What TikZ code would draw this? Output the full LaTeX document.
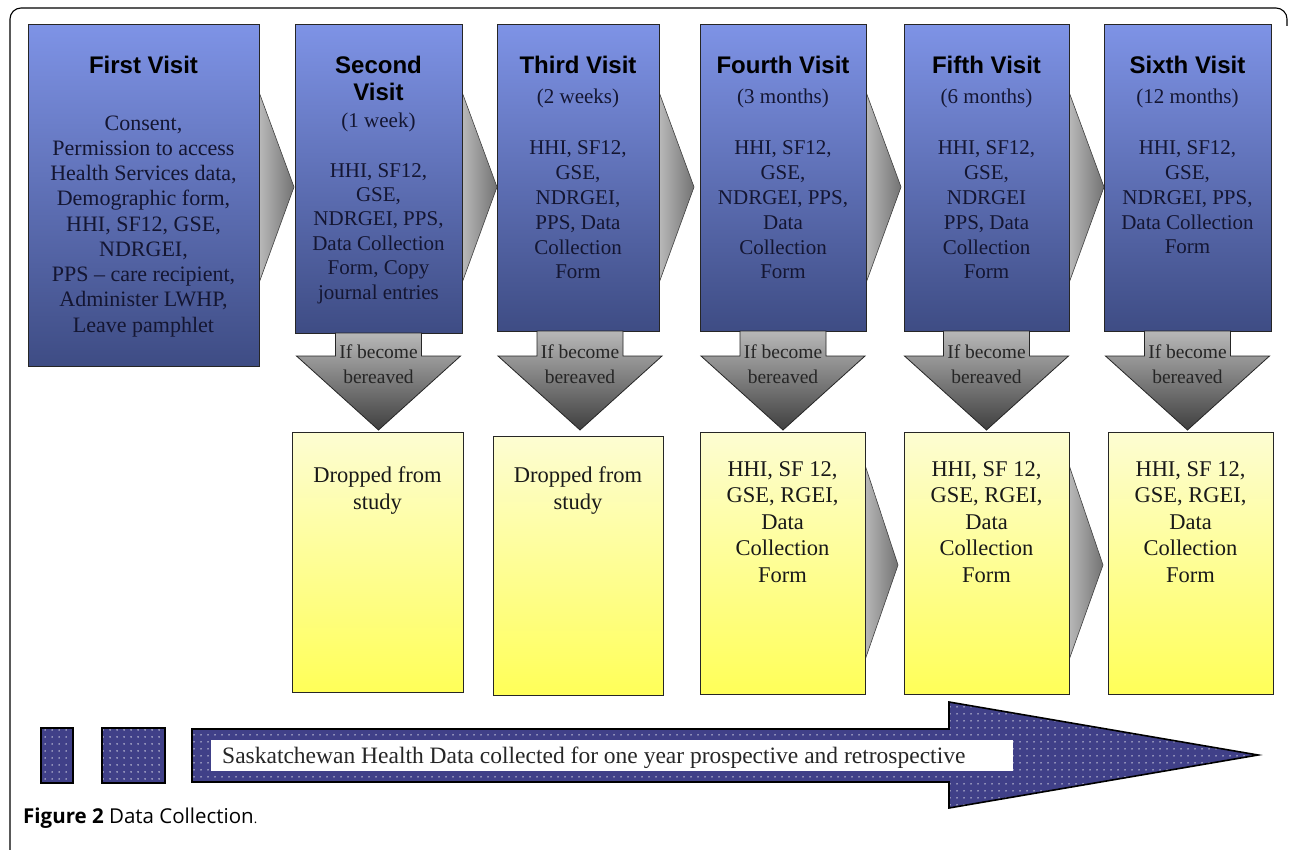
\documentclass[tikz,border=0pt]{standalone}
\usepackage{fontspec}
\setmainfont{Liberation Serif}
\newfontfamily\arialf{Liberation Sans}
\newfontfamily\capf{Open Sans}
\usetikzlibrary{patterns.meta}
\definecolor{vtop}{RGB}{126,147,230}
\definecolor{vbot}{RGB}{62,76,132}
\definecolor{ytop}{RGB}{253,253,210}
\definecolor{ybot}{RGB}{255,255,88}
\definecolor{navy}{RGB}{64,64,136}
\definecolor{txtd}{RGB}{20,22,50}
\tikzset{
  visit/.style={draw=black!85, line width=1pt, top color=vtop, bottom color=vbot},
  yel/.style={draw=black!85, line width=1pt, top color=ytop, bottom color=ybot},
  chev/.style={draw=black!75, line width=0.6pt, left color=black!18, right color=black!55},
  downarr/.style={draw=black!85, line width=0.8pt, top color=black!28, bottom color=black!75},
  dotted box/.style={draw=black, line width=1.6pt, preaction={fill=navy}, pattern={Dots[distance=6.5pt,radius=0.8pt]}, pattern color=white!85!navy},
  ttl/.style={font=\arialf\bfseries\fontsize{24}{27}\selectfont, text=black, align=center, anchor=base, inner sep=0pt},
  vtxt/.style={font=\fontsize{21}{24.8}\selectfont, text=txtd, align=center, anchor=base, inner sep=0pt},
  ytxt/.style={font=\fontsize{22.5}{26.5}\selectfont, text=black!90, align=center, anchor=base, inner sep=0pt},
  btxt/.style={font=\fontsize{19.5}{25}\selectfont, text=black!85, align=center, anchor=base, inner sep=0pt},
}
\begin{document}
\begin{tikzpicture}[x=1pt,y=-1pt]
\useasboundingbox (0,0) rectangle (1290,850);
\fill[white] (0,0) rectangle (1290,850);
% frame
\draw[line width=1.1pt, rounded corners=11pt] (10,851) -- (10,8) -- (1287,8) -- (1287,26);

% top chevrons (behind boxes)
\foreach \xl in {259,462,659,866,1069}{
  \path[chev] (\xl-12,92) -- (\xl,92) -- (\xl+35,187) -- (\xl,283) -- (\xl-12,283) -- cycle;
}
% yellow chevrons
\path[chev] (853,465) -- (865,465) -- (898,565) -- (865,660) -- (853,660) -- cycle;
\path[chev] (1057,465) -- (1069,465) -- (1103,565) -- (1069,660) -- (1057,660) -- cycle;

% visit boxes
\node[visit, minimum width=231pt, minimum height=342pt, anchor=north west, inner sep=0pt] (v1) at (28,24) {};
\node[visit, minimum width=167pt, minimum height=309pt, anchor=north west, inner sep=0pt] (v2) at (295,24) {};
\node[visit, minimum width=162pt, minimum height=307pt, anchor=north west, inner sep=0pt] (v3) at (497,24) {};
\node[visit, minimum width=166pt, minimum height=307pt, anchor=north west, inner sep=0pt] (v4) at (700,24) {};
\node[visit, minimum width=165pt, minimum height=307pt, anchor=north west, inner sep=0pt] (v5) at (904,24) {};
\node[visit, minimum width=167pt, minimum height=307pt, anchor=north west, inner sep=0pt] (v6) at (1104,24) {};

% titles and texts (anchor base = baseline of the last line)
\node[ttl] (t1) at (143.5,73.5) {First Visit};
\node[vtxt, font=\fontsize{22}{25.25}\selectfont] (b1) at (143.5,332) {Consent,\\Permission to access\\Health Services data,\\Demographic form,\\HHI, SF12, GSE,\\NDRGEI,\\PPS -- care recipient,\\Administer LWHP,\\Leave pamphlet};

\node[ttl] (t2) at (378.5,100.5) {Second\\Visit};
\node[vtxt] (p2) at (378.5,128) {(1 week)};
\node[vtxt, font=\fontsize{21}{24.4}\selectfont] (b2) at (378.5,299) {HHI, SF12,\\GSE,\\NDRGEI, PPS,\\Data Collection\\Form, Copy\\journal entries};

\node[ttl] (t3) at (578,73.5) {Third Visit};
\node[vtxt] (p3) at (578,104) {(2 weeks)};
\node[vtxt] (b3) at (578,279) {HHI, SF12,\\GSE,\\NDRGEI,\\PPS, Data\\Collection\\Form};

\node[ttl] (t4) at (783,73.5) {Fourth Visit};
\node[vtxt] (p4) at (783,104) {(3 months)};
\node[vtxt] (b4) at (783,279) {HHI, SF12,\\GSE,\\NDRGEI, PPS,\\Data\\Collection\\Form};

\node[ttl] (t5) at (986.5,73.5) {Fifth Visit};
\node[vtxt] (p5) at (986.5,104) {(6 months)};
\node[vtxt] (b5) at (986.5,279) {HHI, SF12,\\GSE,\\NDRGEI\\PPS, Data\\Collection\\Form};

\node[ttl] (t6) at (1187.5,73.5) {Sixth Visit};
\node[vtxt] (p6) at (1187.5,104) {(12 months)};
\node[vtxt] (b6) at (1187.5,254) {HHI, SF12,\\GSE,\\NDRGEI, PPS,\\Data Collection\\Form};

% down arrows
\foreach \cx/\nm/\bt in {378.5/d2/333,580/d3/331,783/d4/331,986.5/d5/331,1187.5/d6/331}{
  \path[downarr] (\cx-43,\bt) -- (\cx+43,\bt) -- (\cx+43,356) -- (\cx+82,356) -- (\cx,430) -- (\cx-82,356) -- (\cx-43,356) -- cycle;
  \node[btxt] (\nm) at (\cx,383) {If become\\bereaved};
}

% yellow boxes
\node[yel, minimum width=171pt, minimum height=260pt, anchor=north west, inner sep=0pt] (y2) at (292,432) {};
\node[yel, minimum width=170pt, minimum height=259pt, anchor=north west, inner sep=0pt] (y3) at (493,436) {};
\node[yel, minimum width=165pt, minimum height=262pt, anchor=north west, inner sep=0pt] (y4) at (700,432) {};
\node[yel, minimum width=165pt, minimum height=262pt, anchor=north west, inner sep=0pt] (y5) at (904,432) {};
\node[yel, minimum width=165pt, minimum height=262pt, anchor=north west, inner sep=0pt] (y6) at (1108,432) {};

\node[ytxt, font=\fontsize{22.5}{27}\selectfont] (yt2) at (377.5,509) {Dropped from\\study};
\node[ytxt, font=\fontsize{22.5}{27}\selectfont] (yt3) at (578,509) {Dropped from\\study};
\node[ytxt] (yt4) at (782.5,582) {HHI, SF 12,\\GSE, RGEI,\\Data\\Collection\\Form};
\node[ytxt] (yt5) at (986.5,582) {HHI, SF 12,\\GSE, RGEI,\\Data\\Collection\\Form};
\node[ytxt] (yt6) at (1190.5,582) {HHI, SF 12,\\GSE, RGEI,\\Data\\Collection\\Form};

% bottom dotted shapes
\path[dotted box] (41,728) rectangle (73,783);
\path[dotted box] (102,728) rectangle (165,783);
\path[dotted box] (192,729) -- (949,729) -- (949,702) -- (1258,755) -- (949,808) -- (949,782) -- (192,782) -- cycle;
\fill[white] (211,740) rectangle (1013,771);
\node[font=\fontsize{23.5}{26}\selectfont, text=black!85, anchor=base west, inner sep=0pt] (sk) at (222,763) {Saskatchewan Health Data collected for one year prospective and retrospective};

% caption
\node[anchor=base west, inner sep=0pt, font=\capf\fontsize{20.5}{24}\selectfont] (cap) at (23,823) {\textbf{Figure 2} Data Collection{\fontsize{13}{14}\selectfont.}};
\end{tikzpicture}
\end{document}
